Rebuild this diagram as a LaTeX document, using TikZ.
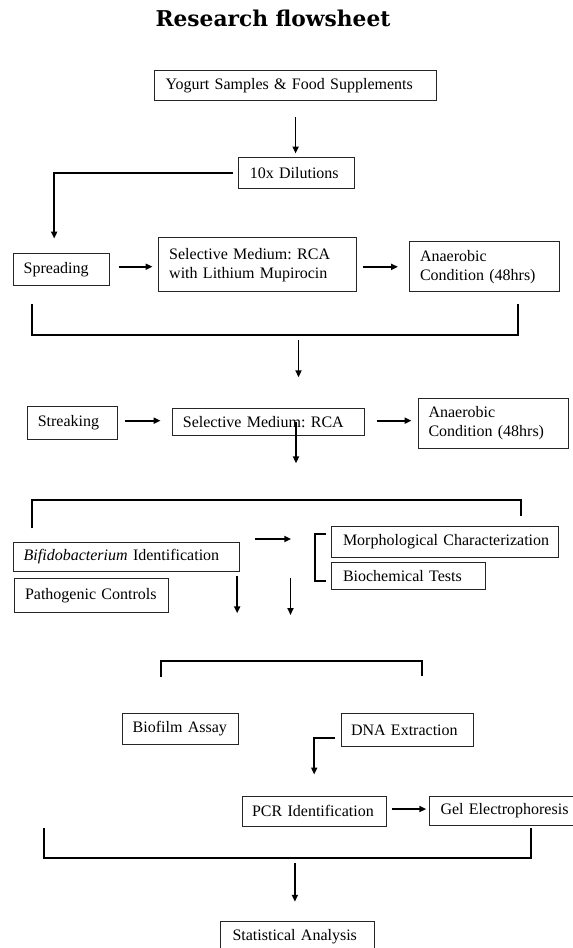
\documentclass[tikz,border=0pt]{standalone}
\usepackage{fontspec}
\setmainfont{Liberation Serif}
\newfontfamily\titlefont{DejaVu Serif}
\usetikzlibrary{arrows.meta}
\frenchspacing
% box from pixel corners (x1,y1)-(x2,y2), left padding, text
\newcommand\flowbox[7]{%
  \pgfmathsetmacro\fbw{(#4-#2-2*#6)*0.75}%
  \pgfmathsetmacro\fbh{(#5-#3)*0.75}%
  \pgfmathsetmacro\fbp{#6*0.75}%
  \node[box, minimum height=\fbh pt, text width=\fbw pt, inner xsep=\fbp pt]
    (#1) at ({(#2+#4)/2},{(#3+#5)/2}) {#7};}
\begin{document}
\begin{tikzpicture}[x=0.75pt,y=-0.75pt,
  box/.style={draw=black!85, line width=0.75pt, inner ysep=0pt, align=left,
    font=\fontsize{12}{14}\selectfont},
  arr/.style={line width=1.3pt, -{Triangle[length=5.2pt,width=4.5pt]}},
  brk/.style={line width=1.6pt}]
\useasboundingbox (0,0) rectangle (573,948);
\clip (0,0) rectangle (573,948);

\node[anchor=base, font=\titlefont\bfseries\fontsize{16.3}{19}\selectfont] (title) at (273,26.7) {Research flowsheet};

\flowbox{yog}{154.6}{70.7}{436.6}{100.7}{11}{Yogurt Samples \& Food Supplements}
\flowbox{dil}{238.8}{157.7}{354.6}{189}{11}{10x Dilutions}
\flowbox{spr}{13.2}{253.3}{109.5}{286}{10.5}{Spreading}
\flowbox{selA}{158.2}{237.7}{356}{292}{11}{Selective Medium: RCA\\with Lithium Mupirocin}
\flowbox{anaA}{409}{241.7}{559.7}{292}{11}{Anaerobic\\Condition (48hrs)}
\flowbox{str}{27.8}{406.7}{117.2}{439}{10}{Streaking}
\flowbox{selB}{172.9}{408.7}{364.8}{435.3}{10}{Selective Medium: RCA}
\flowbox{anaB}{418}{398}{568.9}{448.3}{10.5}{Anaerobic\\Condition (48hrs)}
\flowbox{bif}{13.2}{542.5}{239}{571}{10.5}{\mbox{\textit{Bifidobacterium} Identification}}
\flowbox{pat}{14.5}{578.5}{168.5}{612}{10.5}{Pathogenic Controls}
\flowbox{mor}{331.5}{526.7}{558.6}{557}{11.5}{\mbox{Morphological Characterization}}
\flowbox{bio}{331.5}{562.3}{485.3}{589.3}{11.5}{Biochemical Tests}
\flowbox{biof}{122.7}{713.7}{238.8}{744}{10}{Biofilm Assay}
\flowbox{dna}{341}{713.7}{473.3}{746}{10}{DNA Extraction}
\flowbox{pcr}{242}{796.3}{386.4}{826.3}{10}{PCR Identification}
\flowbox{gel}{429.5}{796}{600}{825.5}{11}{Gel Electrophoresis}
\flowbox{sta}{220}{921.7}{374.4}{951.7}{12.5}{Statistical Analysis}

% coordinates for free ends and brackets
\coordinate (b1l) at (32.2,304);
\coordinate (b1b) at (298.5,335);
\coordinate (b1r) at (518.3,304);
\coordinate (a5e) at (298.5,377.3);
\coordinate (a8e) at (296,463.3);
\coordinate (b2l) at (32.2,528.3);
\coordinate (b2t) at (276.6,500);
\coordinate (b2r) at (521,516);
\coordinate (a9s) at (255.3,539);
\coordinate (a9e) at (291.2,539);
\coordinate (sbt) at (326,534.3);
\coordinate (sbb) at (326,581);
\coordinate (a10s) at (237.2,576);
\coordinate (a10e) at (237.2,613.3);
\coordinate (a11s) at (290.5,578.3);
\coordinate (a11e) at (290.5,615);
\coordinate (b3l) at (161.2,676.7);
\coordinate (b3t) at (291.6,660.7);
\coordinate (b3r) at (422,676);
\coordinate (a12s) at (335.2,737.7);
\coordinate (b4l) at (44,828.3);
\coordinate (b4b) at (294.9,858);
\coordinate (b4r) at (531.1,828.3);
\coordinate (a14e) at (294.9,901.7);
\coordinate (s3) at ([yshift=2.2pt]spr.east);
\coordinate (s6) at ([yshift=1.6pt]str.east);
\coordinate (s7) at ([yshift=1pt]selB.east);
\coordinate (s13) at ([yshift=1.7pt]pcr.east);

% connectors
\draw[arr, shorten <=12pt, shorten >=2.8pt] (yog.south) -- (yog.south |- dil.north);
\draw[arr, shorten <=3.8pt, shorten >=10.7pt] (dil.west) -| ([xshift=-5.4pt]spr.north);
\draw[arr, shorten <=6.4pt, shorten >=3.9pt] (s3) -- (s3 -| selA.west);
\draw[arr, shorten <=5pt, shorten >=7.9pt] (selA.east |- anaA.west) -- (anaA.west);
\draw[brk] (b1l) |- (b1b) -| (b1r);
\draw[arr, shorten <=3.75pt] (b1b) -- (a5e);
\draw[arr, shorten <=5.5pt, shorten >=8.9pt] (s6) -- (s6 -| selB.west);
\draw[arr, shorten <=8.85pt, shorten >=4.5pt] (s7) -- (s7 -| anaB.west);
\draw[arr] (selB.center -| a8e) -- (a8e);
\draw[brk] (b2l) |- (b2t) -| (b2r);
\draw[arr] (a9s) -- (a9e);
\draw[brk] (sbt) -- ++(-11,0) |- (sbb);
\draw[arr] (a10s) -- (a10e);
\draw[arr] (a11s) -- (a11e);
\draw[brk] (b3l) |- (b3t) -| (b3r);
\draw[arr, shorten >=16pt] (a12s) -| (pcr.north);
\draw[arr, shorten <=3.6pt, shorten >=2.1pt] (s13) -- (s13 -| gel.west);
\draw[brk] (b4l) |- (b4b) -| (b4r);
\draw[arr, shorten <=4pt] (b4b) -- (a14e);
\end{tikzpicture}
\end{document}
